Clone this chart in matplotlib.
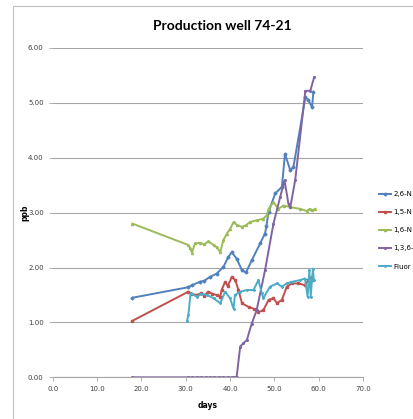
import matplotlib
matplotlib.use("Agg")
import matplotlib.pyplot as plt
from matplotlib.patches import Rectangle

# days / ppb for each tracer
x_26 = [18.0, 30.5, 31.5, 33.2, 34.2, 35.5, 37.0, 38.5, 39.6, 40.4, 41.5, 42.7, 43.6,
        44.9, 46.8, 47.9, 48.2, 48.7, 50.2, 51.7, 52.4, 53.6, 54.3, 57.0, 57.7, 58.5, 58.8]
y_26 = [1.45, 1.64, 1.68, 1.74, 1.76, 1.83, 1.89, 2.01, 2.19, 2.28, 2.16, 1.95, 1.91,
        2.13, 2.44, 2.62, 2.75, 3.01, 3.35, 3.47, 4.07, 3.77, 3.83, 5.10, 5.05, 4.92, 5.19]

x_15 = [18.0, 30.6, 31.3, 32.5, 33.5, 34.2, 35.1, 36.0, 37.0, 37.8, 38.1, 38.9, 39.5,
        40.4, 41.2, 41.9, 42.7, 44.2, 45.3, 46.4, 47.5, 48.7, 49.8, 50.6, 51.7, 52.8,
        53.9, 55.4, 56.9, 57.7, 58.5, 58.8]
y_15 = [1.03, 1.56, 1.52, 1.50, 1.53, 1.49, 1.56, 1.52, 1.50, 1.47, 1.59, 1.74, 1.66,
        1.83, 1.77, 1.59, 1.35, 1.28, 1.25, 1.19, 1.22, 1.41, 1.44, 1.35, 1.41, 1.65,
        1.71, 1.71, 1.68, 1.77, 1.83, 1.77]

x_16 = [18.0, 30.6, 31.0, 31.4, 32.1, 33.3, 34.2, 35.1, 36.3, 37.0, 37.8, 38.5, 39.3,
        40.0, 40.8, 41.5, 42.7, 43.6, 44.5, 46.0, 47.5, 48.3, 48.7, 49.8, 50.9, 52.1,
        53.6, 55.8, 57.3, 58.0, 58.6, 59.2]
y_16 = [2.80, 2.41, 2.36, 2.27, 2.44, 2.45, 2.42, 2.48, 2.41, 2.37, 2.28, 2.50, 2.62,
        2.70, 2.83, 2.78, 2.74, 2.77, 2.83, 2.86, 2.89, 2.95, 3.07, 3.19, 3.07, 3.13,
        3.10, 3.07, 3.03, 3.07, 3.04, 3.07]

x_136 = [18.0, 30.5, 31.5, 32.5, 33.5, 34.5, 35.5, 36.5, 37.5, 38.5, 39.5, 40.5, 41.5,
         42.3, 43.0, 43.8, 44.9, 46.0, 47.9, 49.8, 51.3, 52.3, 53.2, 53.6, 54.7, 57.0,
         58.1, 59.0]
y_136 = [0.00, 0.00, 0.00, 0.00, 0.00, 0.00, 0.00, 0.00, 0.00, 0.00, 0.00, 0.00, 0.01,
         0.56, 0.62, 0.68, 0.98, 1.22, 1.95, 2.80, 3.28, 3.59, 3.15, 3.10, 3.59, 5.22,
         5.22, 5.47]

x_fl = [30.3, 30.6, 31.1, 32.5, 33.5, 34.8, 36.3, 37.8, 38.9, 40.0, 40.8, 41.1, 42.3,
        43.8, 45.3, 46.4, 47.2, 47.5, 49.0, 50.6, 51.7, 52.8, 53.9, 55.8, 56.9, 57.5,
        57.9, 58.2, 58.7, 58.9]
y_fl = [1.03, 1.13, 1.53, 1.47, 1.52, 1.50, 1.44, 1.35, 1.56, 1.44, 1.25, 1.50, 1.56,
        1.59, 1.59, 1.77, 1.53, 1.44, 1.65, 1.71, 1.65, 1.71, 1.74, 1.77, 1.80, 1.47,
        1.95, 1.47, 1.98, 1.77]

# legend names as far as they show at the chart edge
series = [
    ("2,6-N", x_26, y_26, "#4F81BD", "D"),
    ("1,5-N", x_15, y_15, "#C0504D", "s"),
    ("1,6-N", x_16, y_16, "#9BBB59", "^"),
    ("1,3,6-", x_136, y_136, "#8064A2", "x"),
    ("Fluor", x_fl, y_fl, "#4BACC6", "*"),
]

fig = plt.figure(figsize=(4.14, 4.19), dpi=100)
fig.patches.append(Rectangle((13 / 414, -0.01), 1.0, 1 - 6 / 419 + 0.01,
                             transform=fig.transFigure, fill=False,
                             edgecolor="#bfbfbf", linewidth=0.8))

ax = fig.add_axes([52.7 / 414, 41.7 / 419, 310.3 / 414, 329.3 / 419])
for name, xs, ys, col, mk in series:
    ax.plot(xs, ys, color=col, lw=1.4, marker=mk, ms=1.5, label=name)

ax.set_xlim(0, 70)
ax.set_ylim(0, 6)
ax.set_xticks(range(0, 71, 10))
ax.set_xticklabels(["%.1f" % v for v in range(0, 71, 10)])
ax.set_yticks(range(0, 7))
ax.set_yticklabels(["%.2f" % v for v in range(0, 7)])
ax.grid(axis="y", color="#a6a6a6", lw=0.8)
ax.set_axisbelow(True)
for s in ["top", "right", "left"]:
    ax.spines[s].set_visible(False)
ax.spines["bottom"].set_color("#a6a6a6")
ax.tick_params(axis="both", labelsize=5, colors="#404040", length=3, width=0.6)
ax.tick_params(axis="y", color="#a6a6a6")
ax.tick_params(axis="x", color="#a6a6a6")

ax.set_xlabel("days", fontsize=5.5, fontweight="bold", labelpad=6)
ax.set_ylabel("ppb", fontsize=5.5, fontweight="bold")
ax.yaxis.set_label_coords(-0.075, 0.5)
fig.text(222 / 414, 1 - 26 / 419, "Production well 74-21", ha="center", va="center",
         fontsize=10, fontweight="bold", family="Lato")

fig.legend(loc="upper left", bbox_to_anchor=(379 / 414, 1 - 191 / 419), frameon=False,
           fontsize=5, handlelength=1.8, handletextpad=0.3, labelspacing=1.75,
           borderaxespad=0, borderpad=0)

fig.savefig("out.png", dpi=100)
